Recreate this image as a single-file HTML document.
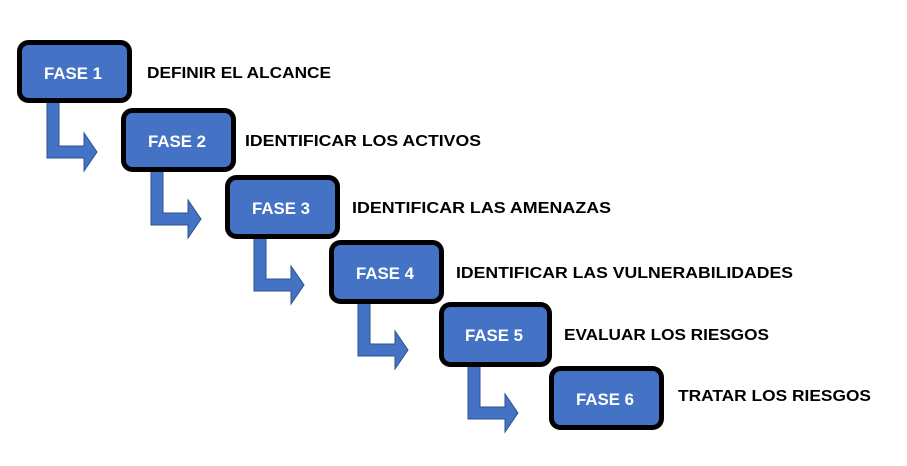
<!DOCTYPE html>
<html><head><meta charset="utf-8"><style>
html,body{margin:0;padding:0;background:#fff;}
svg{display:block;}
text{font-family:"Liberation Sans",sans-serif;font-weight:bold;}
</style></head><body>
<svg width="907" height="466" viewBox="0 0 907 466" xmlns="http://www.w3.org/2000/svg">
<defs>
<g id="arr">
<path d="M29 6 H41 V104 H66 V91 L79 110 L66 129 V116 H29 Z" fill="#4472C4" stroke="#2F528F" stroke-width="1"/>
</g>
</defs>
<g>
<use href="#arr" x="18" y="42"/>
<use href="#arr" x="122" y="109"/>
<use href="#arr" x="225" y="175"/>
<use href="#arr" x="329" y="240"/>
<use href="#arr" x="439" y="303"/>
</g>
<g fill="#4472C4" stroke="#000" stroke-width="5">
<rect x="19.5" y="42.5" width="110" height="58" rx="9"/>
<rect x="123.5" y="110.5" width="110" height="59" rx="9"/>
<rect x="227.5" y="177.5" width="110" height="59" rx="9"/>
<rect x="331.5" y="242.5" width="110" height="59" rx="9"/>
<rect x="441.5" y="304.5" width="108" height="60" rx="9"/>
<rect x="551.5" y="368.5" width="110" height="59" rx="9"/>
</g>
<g fill="#fff" font-size="17" text-anchor="middle">
<text x="73" y="79" textLength="58" lengthAdjust="spacingAndGlyphs">FASE 1</text>
<text x="177" y="147" textLength="58" lengthAdjust="spacingAndGlyphs">FASE 2</text>
<text x="281" y="214" textLength="58" lengthAdjust="spacingAndGlyphs">FASE 3</text>
<text x="385" y="279" textLength="58" lengthAdjust="spacingAndGlyphs">FASE 4</text>
<text x="494" y="341" textLength="58" lengthAdjust="spacingAndGlyphs">FASE 5</text>
<text x="605" y="405" textLength="58" lengthAdjust="spacingAndGlyphs">FASE 6</text>
</g>
<g fill="#000" font-size="16">
<text x="147" y="78" textLength="184" lengthAdjust="spacingAndGlyphs">DEFINIR EL ALCANCE</text>
<text x="245" y="146" textLength="236" lengthAdjust="spacingAndGlyphs">IDENTIFICAR LOS ACTIVOS</text>
<text x="352" y="213" textLength="259" lengthAdjust="spacingAndGlyphs">IDENTIFICAR LAS AMENAZAS</text>
<text x="456" y="278" textLength="337" lengthAdjust="spacingAndGlyphs">IDENTIFICAR LAS VULNERABILIDADES</text>
<text x="564" y="340" textLength="205" lengthAdjust="spacingAndGlyphs">EVALUAR LOS RIESGOS</text>
<text x="678" y="401" textLength="193" lengthAdjust="spacingAndGlyphs">TRATAR LOS RIESGOS</text>
</g>
</svg>
</body></html>
